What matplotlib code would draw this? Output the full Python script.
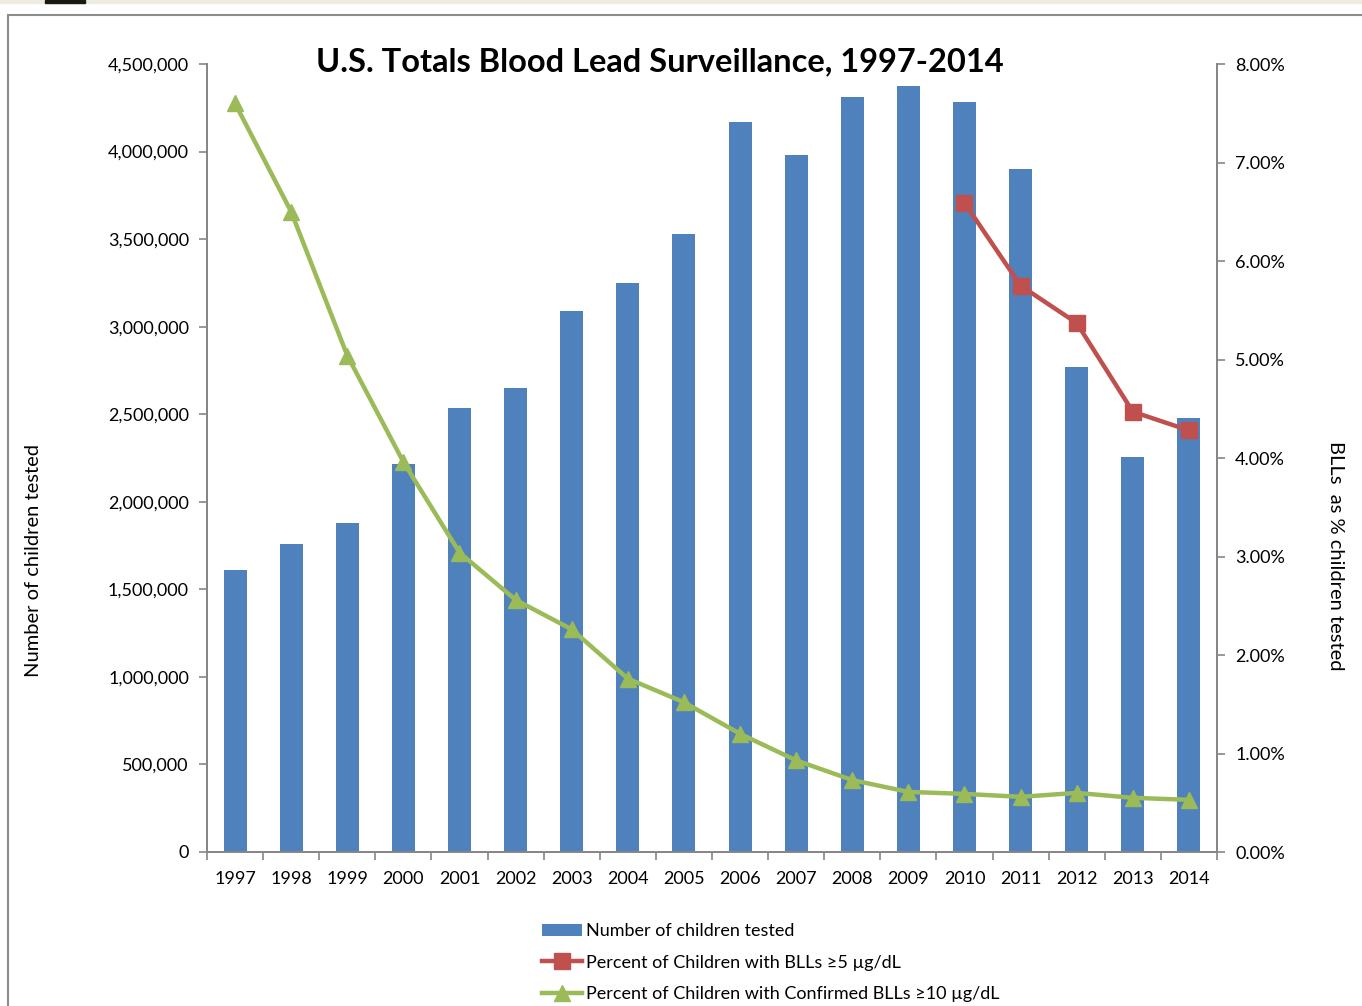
import numpy as np
import matplotlib.pyplot as plt
from matplotlib.patches import Rectangle
from matplotlib.ticker import FuncFormatter

plt.rcParams['font.family'] = ['Lato', 'DejaVu Sans']

years = ['1997', '1998', '1999', '2000', '2001', '2002', '2003', '2004', '2005',
         '2006', '2007', '2008', '2009', '2010', '2011', '2012', '2013', '2014']
tested = [1610000, 1759000, 1879000, 2216000, 2536000, 2650000, 3090000, 3250000,
          3529000, 4169000, 3981000, 4312000, 4375000, 4283000, 3901000, 2770000,
          2256000, 2479000]
pct_10 = [7.60, 6.50, 5.04, 3.96, 3.04, 2.56, 2.26, 1.76, 1.52, 1.20, 0.93, 0.73,
          0.61, 0.59, 0.56, 0.60, 0.55, 0.53]
years_5 = ['2010', '2011', '2012', '2013', '2014']
pct_5 = [6.59, 5.75, 5.37, 4.47, 4.28]

blue = '#4F81BD'
red = '#C0504D'
green = '#9BBB59'
axis_col = '#868686'

fig = plt.figure(figsize=(13.62, 10.06), dpi=100)
# page background strip and chart border
fig.patches.append(Rectangle((0, 1 - 3 / 1006), 1, 3 / 1006, transform=fig.transFigure,
                             color='#EEECE1', zorder=0))
fig.patches.append(Rectangle((45 / 1362, 1 - 3 / 1006), 40 / 1362, 3 / 1006,
                             transform=fig.transFigure, color='#1a1a12', zorder=1))
fig.patches.append(Rectangle((8 / 1362, -0.01), 1.1, 1 - 15 / 1006 + 0.01, transform=fig.transFigure,
                             fill=False, edgecolor='#8c8c8c', lw=1.5, zorder=1))

ax = fig.add_axes([207 / 1362, 1 - 852 / 1006, 1010 / 1362, 788 / 1006])
ax2 = ax.twinx()

x = np.arange(len(years))
bars = ax.bar(x, tested, width=0.41, color=blue, label='Number of children tested', zorder=2)
ax.set_ylim(0, 4500000)
ax.set_xlim(-0.5, len(years) - 0.5)
ax.set_yticks(np.arange(0, 4500001, 500000))
ax.yaxis.set_major_formatter(FuncFormatter(lambda v, p: f'{int(v):,}'))
ax.set_xticks(x)
ax.set_xticklabels(years)
ax.set_xticks(np.arange(-0.5, len(years), 1), minor=True)
ax.tick_params(axis='x', which='major', length=0, pad=14, labelsize=13, colors='black')
ax.tick_params(axis='x', which='minor', length=6, color=axis_col, width=1.2)
ax.tick_params(axis='y', length=6, color=axis_col, width=1.2, labelsize=13, pad=7)
ax.set_ylabel('Number of children tested', fontsize=14.5)
ax.yaxis.set_label_coords(-0.163, 0.37)

x5 = [years.index(y) for y in years_5]
l1, = ax2.plot(x5, pct_5, color=red, lw=3.2, marker='s', ms=11,
               label='Percent of Children with BLLs \u22655 \u00b5g/dL')
l2, = ax2.plot(x, pct_10, color=green, lw=3.2, marker='^', ms=11,
               label='Percent of Children with Confirmed BLLs \u226510 \u00b5g/dL')
ax2.set_ylim(0, 8)
ax2.set_yticks(np.arange(0, 8.01, 1))
ax2.yaxis.set_major_formatter(FuncFormatter(lambda v, p: f'{v:.2f}%'))
ax2.tick_params(axis='y', length=6, color=axis_col, width=1.2, labelsize=13, pad=7)
ax2.set_ylabel('BLLs  as % children tested', fontsize=14.5, rotation=270)
ax2.yaxis.set_label_coords(1.126, 0.376)

for a in (ax, ax2):
    a.spines['top'].set_visible(False)
    for s in ('left', 'right', 'bottom'):
        a.spines[s].set_color(axis_col)
        a.spines[s].set_linewidth(1.3)

fig.text(660 / 1362, 1 - 62 / 1006, 'U.S. Totals Blood Lead Surveillance, 1997-2014',
         ha='center', va='center', fontsize=23.5, fontweight='bold')

handles = [bars, l1, l2]
labels = ['Number of children tested', l1.get_label(), l2.get_label()]
fig.legend(handles, labels, loc='upper left',
           bbox_to_anchor=(535 / 1362, 1 - 916 / 1006), frameon=False, fontsize=13,
           handlelength=2.2, handletextpad=0.2, labelspacing=0.85, borderaxespad=0)

fig.savefig('out.png', dpi=100)
